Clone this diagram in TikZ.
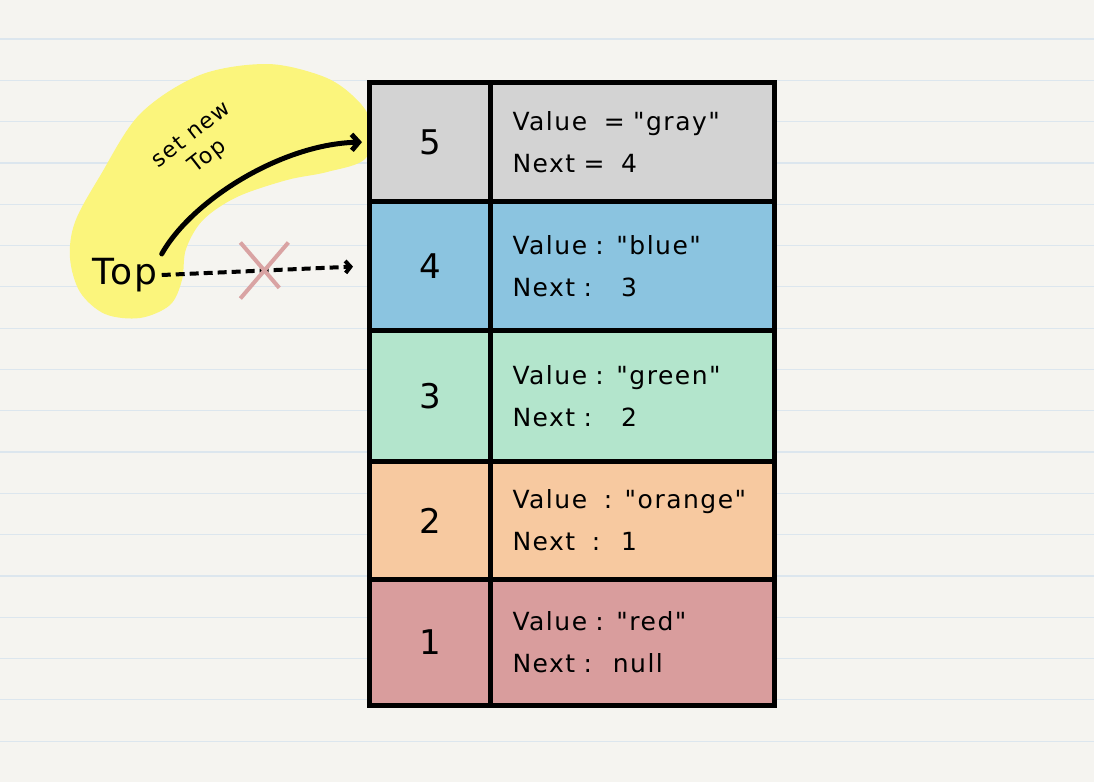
\documentclass[tikz,border=0pt]{standalone}
\usepackage{fontspec}
\usepackage{xcolor}
\usepackage{tikz}
\usetikzlibrary{arrows.meta,shapes.misc}
\setmainfont{DejaVu Sans}
\newfontfamily\hand[LetterSpace=6]{DejaVu Sans}

\definecolor{paper}{HTML}{F5F4F0}
\definecolor{rule}{HTML}{DCE6EE}
\definecolor{marker}{HTML}{FBF57C}
\definecolor{cgray}{HTML}{D3D3D3}
\definecolor{cblue}{HTML}{8BC4E0}
\definecolor{cgreen}{HTML}{B3E5CC}
\definecolor{corange}{HTML}{F7C9A0}
\definecolor{cred}{HTML}{D99D9D}
\definecolor{crossred}{HTML}{D9A3A3}

\tikzset{
    idxcell/.style={draw=black, line width=5pt, anchor=north west, inner sep=0pt,
        minimum width=121pt, font=\hand\fontsize{34}{40}\selectfont},
    valcell/.style={draw=black, line width=5pt, anchor=north west, inner xsep=22pt,
        inner ysep=0pt, text width=240pt, align=left,
        font=\hand\fontsize{25}{42}\selectfont},
    newlink/.style={line width=5pt, line cap=round,
        -{Straight Barb[length=7pt,width=16pt]}},
    oldlink/.style={line width=4pt, dash pattern=on 9pt off 5pt,
        -{Straight Barb[length=5pt,width=12pt]}},
    crossmark/.style={cross out, solid, draw=crossred, line width=4pt,
        minimum width=44pt, minimum height=52pt, inner sep=0pt}
}

\begin{document}
\begin{tikzpicture}[x=1pt, y=-1pt]
    % Paper
    \useasboundingbox (0,0) rectangle (1094,782);
    \fill[paper] (0,0) rectangle (1094,782);
    \foreach \k in {0,...,17} {
        \draw[rule, line width=1.2pt] (0,{39+41.3*\k}) -- (1094,{39+41.3*\k});
    }
    % Highlight
    \fill[marker] plot[smooth cycle, tension=0.55] coordinates {
        (267,64) (322,76) (352,95) (370,120) (366,158) (327,172) (287,180)
        (237,197) (203,220) (186,249) (182,280) (170,305) (140,318) (105,314)
        (80,292) (70,258) (75,222) (100,176) (140,114) (200,75)};
    % Stack rows
    \foreach \n/\y/\h/\col/\txt in {
        5/80/119/cgray/{Value \ = "gray"\\Next = \ 4},
        4/199/129/cblue/{Value : "blue"\\Next : \ \ 3},
        3/328/131/cgreen/{Value : "green"\\Next : \ \ 2},
        2/459/118/corange/{Value \ : "orange"\\Next \ : \ 1},
        1/577/126/cred/{Value : "red"\\Next : \ null}} {
        \node[idxcell, fill=\col, minimum height=\h pt] (idx\n) at (367,\y) {\n};
        \node[valcell, fill=\col, minimum height=\h pt] (val\n) at (488,\y) {\txt};
    }
    % Top pointer
    \node[font=\hand\fontsize{36}{40}\selectfont, inner sep=4pt] (toplbl) at (125,275) {Top};
    \node[rotate=38, align=center, font=\hand\fontsize{22}{27}\selectfont] (settop)
        at (200,146) {set new\\Top};
    \draw[newlink, shorten >=5pt] (toplbl.north east) .. controls (192,200) and (282,144) .. (idx5.west);
    \draw[oldlink, shorten >=14pt] (toplbl.east) -- (idx4.west)
        node[crossmark, pos=0.5] (cross) {};
\end{tikzpicture}
\end{document}
